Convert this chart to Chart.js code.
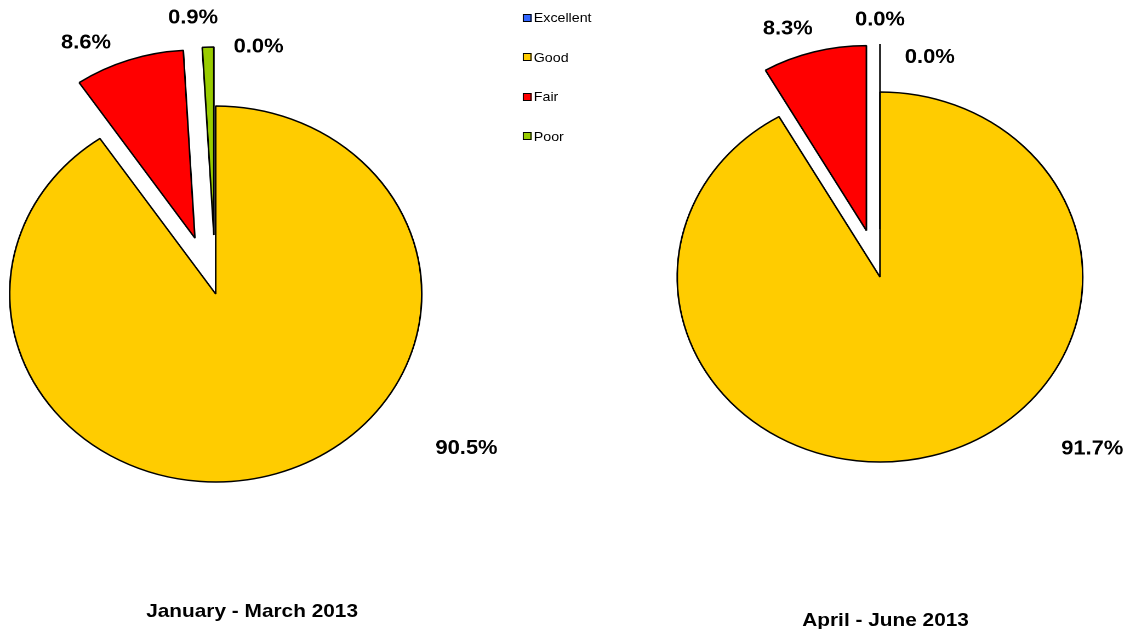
<!doctype html>
<html lang="en">
  <head>
    <meta charset="utf-8">
    <title>Customer rating 2013</title>
    <style>
      * {
        margin: 0;
        padding: 0;
        font-family: 'Liberation Sans', Arial, sans-serif;
      }
      body {
        width: 1130px;
        height: 629px;
        overflow: hidden;
        background: #fff;
      }
      /* the sheet is drawn a little wider than tall, like the exported workbook chart */
      .stage {
        position: absolute;
        left: 0;
        top: 0;
        width: 1031px;
        height: 629px;
        transform: scaleX(1.096);
        transform-origin: 0 0;
      }
      .stage canvas {
        position: absolute;
        top: 0;
      }
      #pieQ1 { left: 0; }
      #pieQ2 { left: 560px; }
      .legend {
        position: absolute;
        left: 477px;
        top: 0;
        z-index: 2;
      }
      .legend div {
        position: absolute;
        left: 0;
        height: 16px;
        display: flex;
        align-items: center;
        white-space: nowrap;
        font-size: 13px;
        color: #000;
      }
      .legend span {
        display: inline-block;
        width: 6px;
        height: 6px;
        border: 1px solid #000;
        margin-right: 2px;
      }
      .caption {
        position: absolute;
        width: 300px;
        text-align: center;
        font-size: 19px;
        font-weight: bold;
        line-height: 19px;
        color: #000;
      }
    </style>
  </head>
  <body>
    <div class="stage">
      <canvas id="pieQ1" width="520" height="629"></canvas>
      <canvas id="pieQ2" width="471" height="629"></canvas>
      <div class="legend" id="legend"></div>
      <div class="caption" id="captionQ1" style="left: 80px; top: 601px;"></div>
      <div class="caption" id="captionQ2" style="left: 658px; top: 610px;"></div>
    </div>
    <script src="https://cdn.jsdelivr.net/npm/chart.js"></script>
    <script>
    // data
    const categories = ['Excellent', 'Good', 'Fair', 'Poor'];
    const q1Values = [0.0, 90.5, 8.6, 0.9];
    const q2Values = [0.0, 91.7, 8.3, 0.0];
    const periods = ['January - March 2013', 'April - June 2013'];
    const colors = ['#3366FF', '#FFCC00', '#FF0000', '#99CC00'];

    // legend
    const legend = document.getElementById('legend');
    categories.forEach((name, i) => {
      const item = document.createElement('div');
      item.style.top = (9.5 + i * 39.5) + 'px';
      const box = document.createElement('span');
      box.style.background = colors[i];
      item.appendChild(box);
      item.appendChild(document.createTextNode(name));
      legend.appendChild(item);
    });
    document.getElementById('captionQ1').textContent = periods[0];
    document.getElementById('captionQ2').textContent = periods[1];

    // pulls slices out along their bisector and writes the percentage labels
    function slicePlugin(style) {
      return {
        id: 'slices',
        afterDatasetsUpdate(chart) {
          chart.getDatasetMeta(0).data.forEach((arc, i) => {
            const d = style.explode[i] || 0;
            const mid = (arc.startAngle + arc.endAngle) / 2;
            arc.x += Math.cos(mid) * d;
            arc.y += Math.sin(mid) * d;
          });
        },
        afterDatasetsDraw(chart) {
          const ctx = chart.ctx;
          const meta = chart.getDatasetMeta(0);
          const values = chart.data.datasets[0].data;
          ctx.save();
          // empty slices have no area, show the pulled-out ones as a single edge
          meta.data.forEach((arc, i) => {
            if (arc.circumference === 0 && style.explode[i] > 0) {
              const a = arc.startAngle;
              ctx.beginPath();
              ctx.moveTo(arc.x, arc.y);
              ctx.lineTo(arc.x + Math.cos(a) * arc.outerRadius, arc.y + Math.sin(a) * arc.outerRadius);
              ctx.lineWidth = 1.5;
              ctx.strokeStyle = '#000';
              ctx.stroke();
            }
          });
          ctx.font = 'bold 20px "Liberation Sans", Arial, sans-serif';
          ctx.fillStyle = '#000';
          ctx.textAlign = 'center';
          ctx.textBaseline = 'middle';
          meta.data.forEach((arc, i) => {
            const fixed = style.labelAngle[i];
            const a = fixed == null ? (arc.startAngle + arc.endAngle) / 2 : (fixed - 90) * Math.PI / 180;
            const r = arc.outerRadius + style.labelPad[i];
            ctx.fillText(values[i].toFixed(1) + '%', arc.x + Math.cos(a) * r, arc.y + Math.sin(a) * r);
          });
          ctx.restore();
        }
      };
    }

    function makePie(id, values, radius, padding, style) {
      return new Chart(document.getElementById(id), {
        type: 'pie',
        data: {
          labels: categories,
          datasets: [{
            data: values,
            backgroundColor: colors,
            borderColor: '#000',
            borderWidth: 1.5,
            clip: false
          }]
        },
        options: {
          responsive: false,
          devicePixelRatio: 2,
          animation: false,
          events: [],
          radius: radius,
          layout: { padding: padding },
          plugins: {
            legend: { display: false },
            tooltip: { enabled: false }
          }
        },
        plugins: [slicePlugin(style)]
      });
    }

    makePie('pieQ1', q1Values, 188,
      { left: 0, right: 126.4, top: 0, bottom: 41 },
      { explode: [0, 0, 59, 59], labelAngle: [9, 124, -27, -5], labelPad: [62, 88, 31, 30] });

    makePie('pieQ2', q2Values, 185,
      { left: 100, right: 85.2, top: 0, bottom: 75 },
      { explode: [0, 0, 48, 48], labelAngle: [11.7, 131.6, -19.6, null], labelPad: [39, 74, 29, 24] });
    </script>
  </body>
</html>
